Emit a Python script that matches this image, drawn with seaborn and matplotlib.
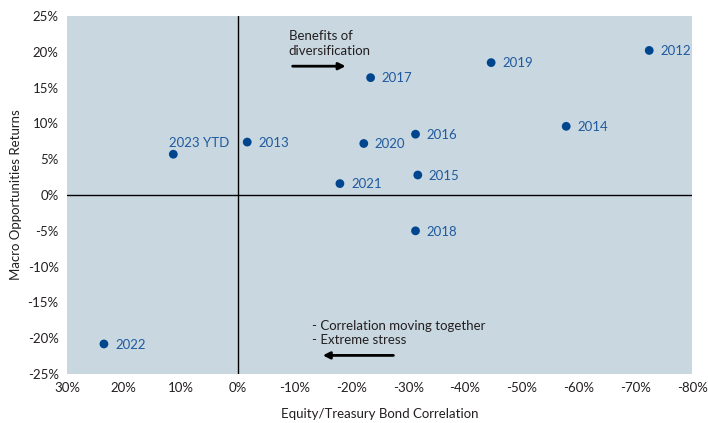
import matplotlib
matplotlib.use("Agg")
import matplotlib.pyplot as plt
import seaborn as sns
import pandas as pd
from matplotlib.ticker import FuncFormatter

anos = ["2012", "2019", "2017", "2014", "2016", "2013", "2020",
        "2023 YTD", "2015", "2021", "2018", "2022"]
correlacao = [-72.4, -44.6, -23.4, -57.8, -31.3, -1.7, -22.2,
              11.3, -31.7, -18.0, -31.3, 23.5]
retornos = [20.2, 18.5, 16.4, 9.6, 8.5, 7.4, 7.2,
            5.7, 2.8, 1.6, -5.0, -20.8]

df = pd.DataFrame({"Ano": anos, "Correlacao": correlacao, "Retorno": retornos})

sns.set_style("white")
plt.rcParams["font.family"] = ["Lato", "DejaVu Sans"]

cor_ponto = "#00468F"
cor_texto = "#1F5A9E"
cor_eixo = "#231F20"

fig = plt.figure(figsize=(7.08, 4.23), dpi=100)
ax = fig.add_axes([0.0946, 0.1158, 0.8834, 0.8462])
ax.set_facecolor("#C9D7E0")

sns.scatterplot(data=df, x="Correlacao", y="Retorno", color=cor_ponto,
                s=40, edgecolor="none", ax=ax, zorder=3)

for ano, x, y in zip(anos, correlacao, retornos):
    if ano == "2023 YTD":
        ax.annotate(ano, (x, y), xytext=(-3, 4), textcoords="offset points",
                    ha="left", va="bottom", fontsize=9.5, color=cor_texto)
    else:
        ax.annotate(ano, (x, y), xytext=(8, -0.5), textcoords="offset points",
                    ha="left", va="center", fontsize=9.5, color=cor_texto)

ax.axhline(0, color="black", lw=1, zorder=2)
ax.axvline(0, color="black", lw=1, zorder=2)

ax.set_xlim(30, -80)
ax.set_ylim(-25, 25)
ax.set_xticks(range(30, -81, -10))
ax.set_yticks(range(-25, 26, 5))
ax.xaxis.set_major_formatter(FuncFormatter(lambda v, p: f"{v:.0f}%"))
ax.yaxis.set_major_formatter(FuncFormatter(lambda v, p: f"{v:.0f}%"))
ax.tick_params(axis="both", labelsize=9.5, colors=cor_eixo, length=0, pad=6)

for lado in ax.spines.values():
    lado.set_visible(False)

ax.set_xlabel("Equity/Treasury Bond Correlation", fontsize=9.5, color=cor_eixo, labelpad=10)
ax.set_ylabel("Macro Opportunities Returns", fontsize=9.5, color=cor_eixo, labelpad=4)

ax.text(-9, 23.0, "Benefits of\ndiversification", ha="left", va="top",
        fontsize=9.5, color=cor_eixo, linespacing=1.25)
ax.annotate("", xy=(-19.5, 18.0), xytext=(-9.2, 18.0),
            arrowprops=dict(arrowstyle="-|>", color="black", lw=2, mutation_scale=10))

ax.text(-13.1, -17.4, "- Correlation moving together\n- Extreme stress", ha="left", va="top",
        fontsize=9.5, color=cor_eixo, linespacing=1.25)
ax.annotate("", xy=(-14.5, -22.4), xytext=(-27.9, -22.4),
            arrowprops=dict(arrowstyle="-|>", color="black", lw=2, mutation_scale=10))

fig.savefig("out.png", dpi=100)
